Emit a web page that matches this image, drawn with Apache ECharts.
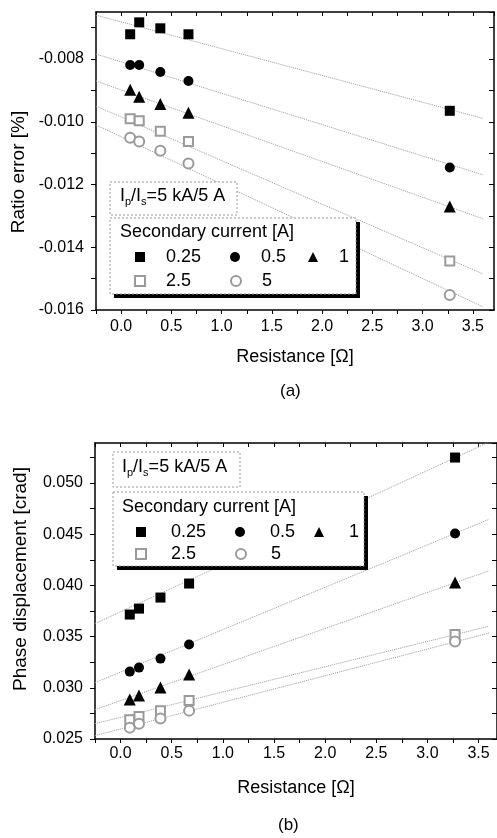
<!DOCTYPE html>
<html>
<head>
<meta charset="utf-8">
<script src="https://cdn.jsdelivr.net/npm/echarts@6/dist/echarts.min.js"></script>
<style>
  html, body { margin: 0; padding: 0; background: #fff; }
  #chart { width: 497px; height: 838px; }
</style>
</head>
<body>
<div id="chart"></div>
<script>
// secondary currents [A] and resistances [ohm]
const currents = ['0.25', '0.5', '1', '2.5', '5'];
const resistance = [0.09, 0.18, 0.39, 0.67, 3.27];

// (a) ratio error [%]
const ratio025 = [-0.00721, -0.00683, -0.00702, -0.00721, -0.00965];
const ratio05 = [-0.00819, -0.00819, -0.00841, -0.00870, -0.01146];
const ratio1 = [-0.00898, -0.00920, -0.00943, -0.00971, -0.01270];
const ratio25 = [-0.00990, -0.00997, -0.01030, -0.01063, -0.01444];
const ratio5 = [-0.01051, -0.01063, -0.01092, -0.01133, -0.01552];

// (b) phase displacement [crad]
const phase025 = [0.03715, 0.03773, 0.03881, 0.04018, 0.05248];
const phase05 = [0.03158, 0.03197, 0.03285, 0.03422, 0.04506];
const phase1 = [0.02885, 0.02924, 0.03002, 0.03129, 0.04027];
const phase25 = [0.02689, 0.02719, 0.02777, 0.02875, 0.03520];
const phase5 = [0.02611, 0.02650, 0.02699, 0.02777, 0.03451];

const fitX = [-0.25, 3.6];
const fitRatioStart = [-0.0066, -0.00784, -0.0087, -0.0095, -0.0101];
const fitRatioEnd = [-0.00989, -0.01169, -0.01309, -0.01485, -0.0159];
const fitPhaseStart = [0.03627, 0.0305, 0.02787, 0.0265, 0.02533];
const fitPhaseEnd = [0.05398, 0.04644, 0.04142, 0.03601, 0.03534];

const symbols = ['rect', 'circle', 'triangle', 'emptyRect', 'emptyCircle'];
const symbolSizes = [10, 10, 12, 9, 10];
const colors = ['#000', '#000', '#000', '#9a9a9a', '#9a9a9a'];

const font = 'Liberation Sans, Arial, sans-serif';

let myChart = echarts.init(document.getElementById('chart'));

function xAxes(grid, max, pos) {
    return {
        gridIndex: grid, type: 'value', position: pos,
        min: -0.25, max: max, interval: 0.25,
        axisLine: { show: true, onZero: false, lineStyle: { color: '#000', width: 1.5 } },
        axisTick: { show: true, inside: pos === 'top', length: 4, lineStyle: { color: '#000' } },
        splitLine: { show: false },
        axisLabel: {
            show: pos === 'bottom', margin: grid === 0 ? 9 : 7,
            fontSize: 16, color: '#000', fontFamily: font, showMaxLabel: false,
            formatter: v => Math.abs(v * 2 - Math.round(v * 2)) < 1e-6 ? v.toFixed(1) : ''
        }
    }
}

function yAxes(grid, min, max, step, pos) {
    return {
        gridIndex: grid, type: 'value', position: pos,
        min: min, max: max, interval: step,
        axisLine: { show: true, onZero: false, lineStyle: { color: '#000', width: 1.5 } },
        axisTick: { show: true, inside: pos === 'right', length: 5, lineStyle: { color: '#000' } },
        splitLine: { show: false },
        axisLabel: {
            show: pos === 'left', margin: 12,
            fontSize: 16, color: '#000', fontFamily: font, showMaxLabel: false,
            formatter: v => Math.round((v - min) / step) % 2 === 0 ? v.toFixed(3) : ''
        }
    }
}

function buildSeries(grid, values, fitStart, fitEnd) {
    let out = []
    values.forEach((arr, i) => {
        out.push({
            name: 'fit' + grid + '_' + i, type: 'line', xAxisIndex: grid * 2, yAxisIndex: grid * 2,
            data: [[fitX[0], fitStart[i]], [fitX[1], fitEnd[i]]],
            symbol: 'none', silent: true, z: 1,
            lineStyle: { color: '#9a9a9a', width: 1, type: 'dotted' }
        })
    })
    values.forEach((arr, i) => {
        out.push({
            name: currents[i], type: 'scatter', xAxisIndex: grid * 2, yAxisIndex: grid * 2,
            data: arr.map((v, k) => [resistance[k], v]),
            symbol: symbols[i], symbolSize: symbolSizes[i],
            itemStyle: { color: colors[i], borderColor: colors[i], borderWidth: i > 2 ? 1 : 0, opacity: 1 },
            z: 3
        })
    })
    return out
}

// icon is 10x10, text pushed right with padding; column widths set per item
function legendFor(left, top, pad, widths, lineH) {
    return {
        left: left, top: top, width: 260, padding: 0, orient: 'horizontal',
        itemWidth: 10, itemHeight: 10, itemGap: 4,
        selectedMode: false, z: 30,
        textStyle: { fontSize: 18, color: '#000', fontFamily: font, lineHeight: lineH, padding: [0, 0, 0, pad] },
        data: currents.map((c, i) => widths[i] ? { name: c, textStyle: { width: widths[i] } } : { name: c })
    }
}

function subText(x, y) {
    return {
        type: 'text', left: x, top: y, z: 21,
        style: {
            text: 'I{s|p}/I{s|s}=5 kA/5 A', fill: '#000', font: '18px ' + font,
            rich: { s: { fontSize: 11, fontFamily: font, padding: [12, 0, 0, 0] } }
        }
    }
}

function boxes(b1, b2) {
    return [
        { type: 'rect', z: 20, shape: { x: b1[0], y: b1[1], width: b1[2], height: b1[3] },
          style: { fill: '#fff', stroke: '#999', lineWidth: 1, lineDash: [2, 2] } },
        { type: 'rect', z: 19, shape: { x: b2[0] + 4, y: b2[1] + 4, width: b2[2], height: b2[3] },
          style: { fill: '#000' } },
        { type: 'rect', z: 20, shape: { x: b2[0], y: b2[1], width: b2[2], height: b2[3] },
          style: { fill: '#fff', stroke: '#999', lineWidth: 1, lineDash: [2, 2] } }
    ]
}

function yTitle(text, x, y, size) {
    return {
        type: 'text', x: x, y: y, rotation: Math.PI / 2,
        style: { text: text, fill: '#000', font: size + 'px ' + font, align: 'center', verticalAlign: 'middle' }
    }
}

const nameStyle = { fontSize: 18, color: '#000', fontFamily: font };

let xa = [xAxes(0, 3.71, 'bottom'), xAxes(0, 3.71, 'top'), xAxes(1, 3.68, 'bottom'), xAxes(1, 3.68, 'top')];
xa[0].name = 'Resistance [Ω]'; xa[0].nameLocation = 'middle'; xa[0].nameGap = 38; xa[0].nameTextStyle = nameStyle;
xa[2].name = 'Resistance [Ω]'; xa[2].nameLocation = 'middle'; xa[2].nameGap = 40; xa[2].nameTextStyle = nameStyle;

let ya = [yAxes(0, -0.016, -0.0065, 0.001, 'left'), yAxes(0, -0.016, -0.0065, 0.001, 'right'),
          yAxes(1, 0.025, 0.0539, 0.0025, 'left'), yAxes(1, 0.025, 0.0539, 0.0025, 'right')];

myChart.setOption({
    backgroundColor: '#fff',
    animation: false,
    grid: [
        { left: 96, top: 12, width: 398, height: 298 },
        { left: 95, top: 443, width: 402, height: 296 }
    ],
    xAxis: xa,
    yAxis: ya,
    legend: [
        legendFor(134, 247, 16, [60, 43, null, 60, 43], 20),
        legendFor(135, 523, 20, [60, 40, null, 60, 40], 17)
    ],
    graphic: [
        ...boxes([110, 182, 127, 33], [110, 218, 246, 76]),
        subText(120, 187),
        { type: 'text', left: 120, top: 223, z: 21, style: { text: 'Secondary current [A]', fill: '#000', font: '18px ' + font } },
        ...boxes([113, 452, 127, 35], [113, 492, 251, 74]),
        subText(122, 458),
        { type: 'text', left: 122, top: 498, z: 21, style: { text: 'Secondary current [A]', fill: '#000', font: '18px ' + font } },
        yTitle('Ratio error [%]', 19, 172, 19),
        yTitle('Phase displacement [crad]', 21, 579, 19),
        { type: 'text', left: 280, top: 383, style: { text: '(a)', fill: '#000', font: '17px ' + font } },
        { type: 'text', left: 278, top: 817, style: { text: '(b)', fill: '#000', font: '17px ' + font } }
    ],
    series: [
        ...buildSeries(0, [ratio025, ratio05, ratio1, ratio25, ratio5], fitRatioStart, fitRatioEnd),
        ...buildSeries(1, [phase025, phase05, phase1, phase25, phase5], fitPhaseStart, fitPhaseEnd)
    ]
})
</script>
</body>
</html>
